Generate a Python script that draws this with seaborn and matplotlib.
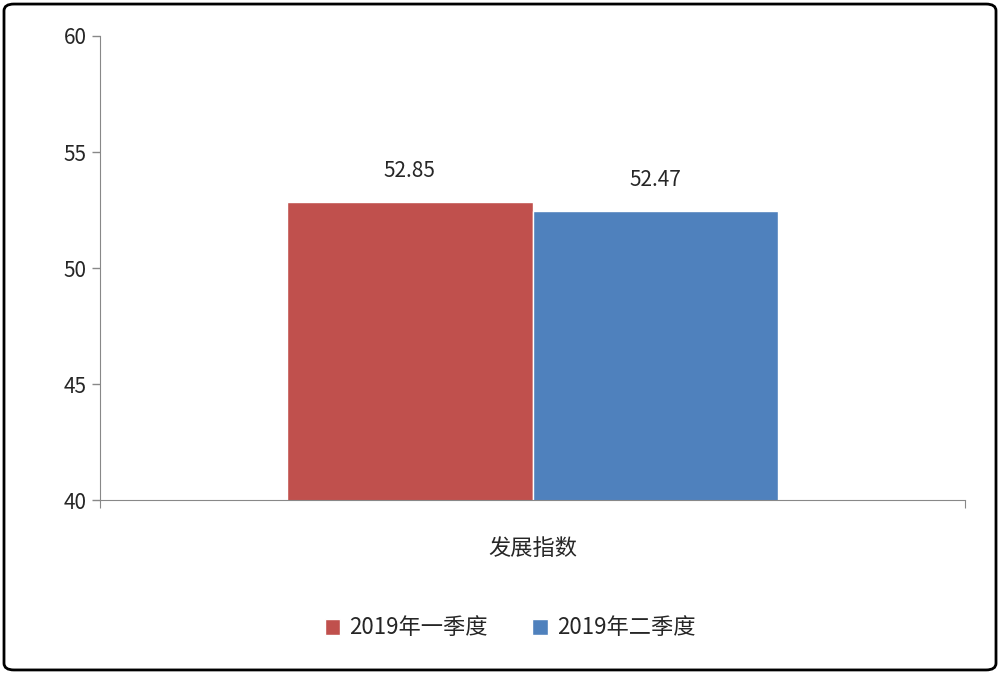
import matplotlib
matplotlib.use("Agg")
import matplotlib.pyplot as plt
import seaborn as sns
import pandas as pd
from matplotlib.patches import FancyBboxPatch

categories = ["发展指数"]
series = ["2019年一季度", "2019年二季度"]
values = [52.85, 52.47]
colors = ["#C0504D", "#4F81BD"]

sns.set_style("white")
plt.rcParams['font.family'] = ['Noto Sans CJK SC', 'DejaVu Sans']

df = pd.DataFrame({"cat": categories * 2, "series": series, "value": values})

fig = plt.figure(figsize=(10, 6.74), dpi=100)
ax = fig.add_axes([0.1, 0.258, 0.865, 0.6886])
sns.barplot(data=df, x="cat", y="value", hue="series", palette=colors,
            width=0.568, ax=ax, legend=True, saturation=1)
ax.set_xlim(-0.5, 0.5)
ax.set_ylim(40, 60)
ax.set_yticks([40, 45, 50, 55, 60])
ax.tick_params(axis="y", labelsize=15, direction="out", length=6, left=True, width=1, color="#888888")
ax.set_xticks([-0.5, 0.5])
ax.set_xticklabels(["", ""])
ax.tick_params(axis="x", direction="out", length=6, bottom=True, color="#888888")
ax.set_xlabel("")
ax.set_ylabel("")
for s in ["top", "right"]:
    ax.spines[s].set_visible(False)
for s in ["left", "bottom"]:
    ax.spines[s].set_color("#888888")
for cont in ax.containers:
    ax.bar_label(cont, fmt="%.2f", padding=14, fontsize=15)
fig.text(0.533, 1 - 548 / 674, categories[0], ha="center", va="center", fontsize=16)
ax.legend(loc="center", bbox_to_anchor=(0.51, 1 - 628 / 674), bbox_transform=fig.transFigure,
          ncol=2, frameon=False, fontsize=16, handlelength=0.7, handleheight=0.7,
          columnspacing=2.0, handletextpad=0.4)
fig.patches.append(FancyBboxPatch((0.004, 0.006), 0.992, 0.988, boxstyle="round,pad=0,rounding_size=0.01",
                                  transform=fig.transFigure, fill=False, edgecolor="black", linewidth=2))
fig.savefig("out.png", dpi=100)
